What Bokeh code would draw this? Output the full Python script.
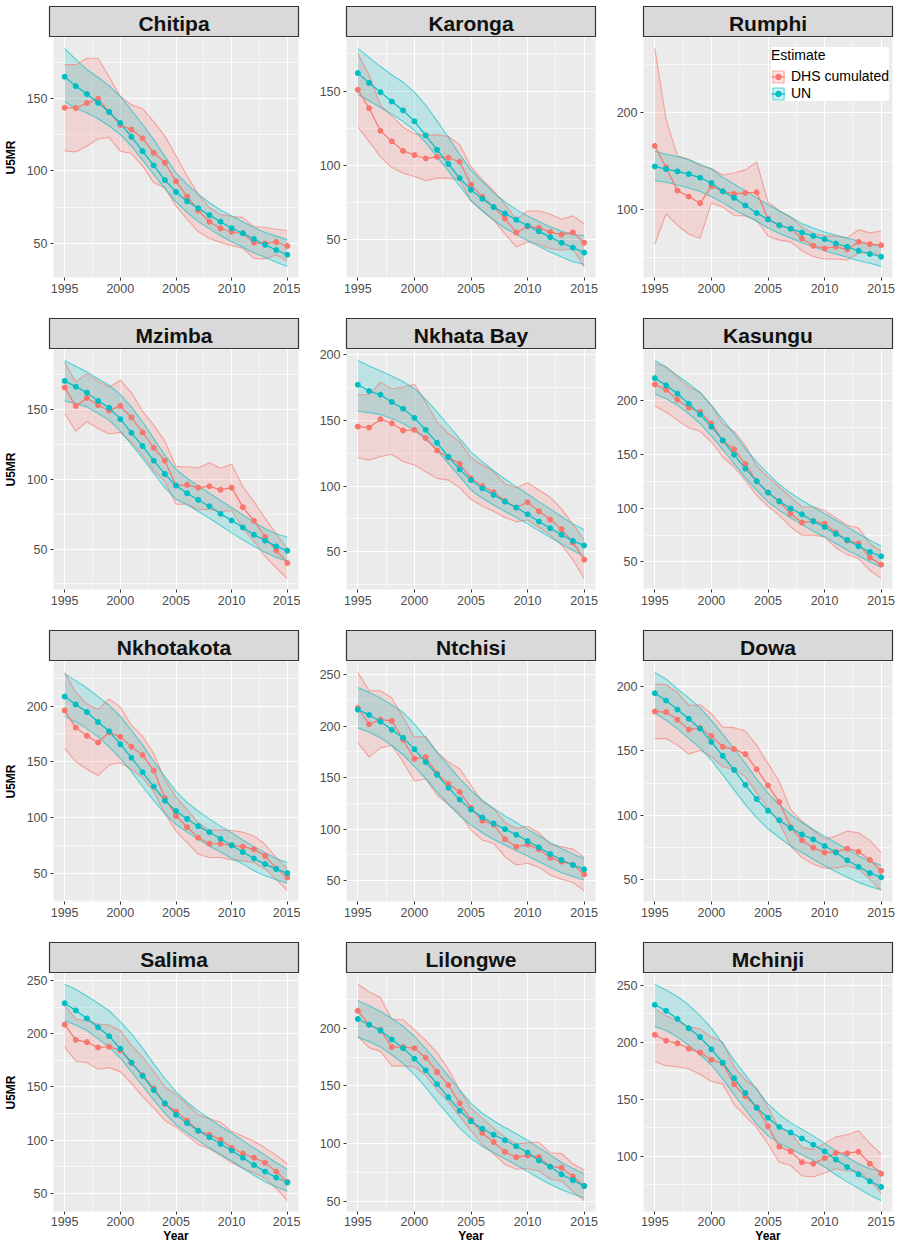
from bokeh.plotting import figure
from bokeh.layouts import column, row
from bokeh.models import Range1d, SingleIntervalTicker, Legend, LegendItem
from bokeh.core.properties import value
from bokeh.embed import file_html
from bokeh.resources import INLINE

years = list(range(1995, 2016))
districts = ["Chitipa", "Karonga", "Rumphi", "Mzimba", "Nkhata Bay", "Kasungu",
             "Nkhotakota", "Ntchisi", "Dowa", "Salima", "Lilongwe", "Mchinji"]
series_labels = ["DHS cumulated", "UN"]
legend_title = "Estimate"
y_label = "U5MR"
x_label = "Year"
y_tick_steps = [50, 50, 100, 50, 50, 50, 50, 50, 50, 50, 50, 50]

chitipa_un = [165, 158.5, 153, 147, 140.6, 133, 123.5, 113.6, 103.8, 93.7, 85.5, 79, 74.3, 69.5, 65, 60.5, 57, 53, 49, 45.4, 42.2]
chitipa_un_lo = [147.5, 143.4, 140, 136, 131, 125, 117, 107.4, 97.6, 87.8, 78.6, 71.3, 65, 60, 55.3, 51.2, 47.3, 43.4, 40.4, 37, 34]
chitipa_un_hi = [184.5, 177, 170, 164.6, 158.7, 151.4, 142, 132, 121.6, 110, 98.7, 90.7, 84, 78, 73, 69, 65, 61, 57.5, 55, 52.5]
chitipa_dhs = [143.6, 143.4, 146.8, 149.8, 140.6, 131.7, 128.5, 122.5, 112.5, 105.6, 92.8, 82.3, 72.7, 64.9, 60.3, 58, 57, 50.5, 50, 51, 48.2]
chitipa_dhs_lo = [113.8, 113, 117, 122, 123, 113.6, 112, 103.3, 91.9, 88.4, 75.9, 66.7, 58, 53.4, 50.7, 48.4, 46.6, 39.7, 39.2, 42, 38]
chitipa_dhs_hi = [173.3, 173.3, 177.7, 177.7, 165, 151.4, 145.6, 143, 134, 124, 110.6, 96.5, 84, 74.7, 70, 68.5, 67.8, 61.6, 61, 59.8, 58.7]

karonga_un = [162.1, 155.5, 149.3, 143, 137, 129.7, 120.2, 110.5, 101, 91.5, 83.6, 77.6, 72, 67.7, 63.5, 59.5, 55.7, 51.8, 48, 44.7, 41.4]
karonga_un_lo = [147.8, 143.4, 139, 134.5, 129.5, 123.5, 115.3, 105.8, 96.4, 86, 76.5, 69.4, 63.2, 58, 53.5, 49.6, 45.6, 41.8, 38.5, 35.2, 33.4]
karonga_un_hi = [178.7, 172.7, 166.5, 161, 156, 149.3, 140.5, 130, 119, 107.4, 97, 89.3, 81.6, 75.6, 70.3, 66, 62.4, 58.8, 55.7, 53.5, 52.9]
karonga_dhs = [150.9, 138.5, 123.3, 116.2, 109.8, 107, 104.7, 105.8, 105.2, 102.5, 87, 78.9, 72, 64.3, 54.9, 59, 58, 55.3, 53.5, 55, 48]
karonga_dhs_lo = [125.7, 116, 105.8, 98.6, 94.8, 92.6, 89.7, 91.5, 91.5, 90.4, 76, 69.4, 63.2, 54, 45.2, 48.5, 47, 44, 43, 44, 32]
karonga_dhs_hi = [175.4, 161, 140.5, 133.4, 125.7, 121.3, 120.2, 120.6, 119.5, 114, 99.2, 90.4, 83, 73.8, 63.9, 69.4, 69.4, 67.2, 63.9, 66.1, 61]

rumphi_un = [144.5, 141.8, 139.4, 136.6, 132.9, 127.4, 118.8, 112, 104.1, 96.2, 89.7, 83.6, 80.1, 76, 72.6, 69.2, 64.7, 61.3, 57.2, 53.8, 51]
rumphi_un_lo = [129.8, 128.1, 125.3, 122.3, 118.5, 113.4, 106.8, 100, 93.8, 87.7, 80.8, 75, 70.5, 65.4, 61.3, 57.2, 53.8, 50.3, 46.9, 44.2, 40.8]
rumphi_un_hi = [160.6, 157.2, 154.8, 151.4, 146.9, 141.8, 133.2, 126.4, 119.5, 112, 104.8, 98.3, 92.1, 85.3, 80.8, 76.7, 73.3, 70.5, 67.1, 63.7, 62.3]
rumphi_dhs = [165.8, 143.5, 119.5, 113.4, 106.5, 124, 118.8, 116.1, 117.1, 117.8, 90.4, 83.6, 80.1, 69.9, 62.3, 59.6, 61.3, 58.6, 66.4, 64, 63]
rumphi_dhs_lo = [64, 95.5, 83.6, 74.3, 70, 106.8, 102.4, 93.8, 93.2, 88.7, 72.6, 68.2, 66.4, 57.2, 51, 48.6, 48.6, 47.6, 54.5, 55.5, 52.7]
rumphi_dhs_hi = [266.8, 193, 155.5, 152, 145, 142.5, 135.6, 137.7, 141, 149.3, 107.5, 99, 92, 81.8, 75, 72.6, 72.6, 70.5, 79, 75.7, 77.7]

mzimba_un = [170.5, 166.4, 162.1, 156.2, 151.2, 143.1, 133.3, 123.8, 113.3, 103.8, 95.5, 90, 85.2, 80.7, 75.2, 70.5, 65.5, 60.2, 56, 51.9, 48.8]
mzimba_un_lo = [156.2, 154.3, 151.9, 147.1, 142.4, 134.5, 125, 115, 104.3, 94, 85.7, 81.7, 76.9, 72.1, 66.9, 61.4, 56.7, 51.9, 47.6, 44, 41.2]
mzimba_un_hi = [185.2, 181, 176.9, 172.1, 167.4, 160.7, 151.9, 141.2, 129.3, 117.4, 107.1, 100.7, 95.2, 90, 84.8, 79.8, 74.5, 69.3, 64.5, 60.7, 58.6]
mzimba_dhs = [165.7, 152.6, 158.3, 153.1, 149.3, 152.6, 144.3, 133.6, 122.6, 113.3, 95.5, 96, 94, 95, 92.4, 94, 80, 70.2, 58.6, 49, 40]
mzimba_dhs_lo = [147.1, 134.5, 141.2, 136.4, 132.4, 133.6, 126.4, 117.4, 106.2, 98.3, 82.1, 82.1, 78.1, 78.1, 76.9, 77.4, 65, 55.5, 44.8, 36.4, 28.8]
mzimba_dhs_hi = [183.6, 169.8, 175.7, 170.2, 166.2, 171, 162.1, 148.8, 138.8, 127.4, 109, 109, 108.3, 111.9, 107.9, 110.7, 94.8, 84, 72.1, 61, 50]

nkhatabay_un = [177, 172.2, 169.4, 163.9, 158.8, 151.8, 142.7, 132.8, 122.2, 112.6, 104.5, 98.2, 93.2, 88.1, 83.6, 78.5, 73, 67.9, 62.9, 58.3, 54.8]
nkhatabay_un_lo = [156.8, 155.8, 154.3, 151.3, 147.5, 142.4, 135.6, 127.3, 117.2, 107.1, 97, 90.7, 85.6, 80.6, 76, 71.2, 65.9, 61.1, 55.8, 51, 46.5]
nkhatabay_un_hi = [195.5, 191.2, 187.6, 183.6, 179.5, 174, 165.9, 156.3, 146.2, 136.1, 126, 118.4, 111.6, 105.3, 99.5, 93.9, 88.1, 82.6, 76.8, 71.2, 66.7]
nkhatabay_dhs = [145.2, 144.4, 150.8, 147.7, 142.2, 142.7, 136.4, 127, 121.7, 116.9, 105.8, 100, 95.2, 88.6, 83.6, 87.6, 80.8, 74.5, 67.2, 57.1, 44]
nkhatabay_dhs_lo = [121.5, 119.7, 122.2, 124.2, 118.4, 115.9, 110.9, 105.8, 104.5, 98.7, 89.9, 84.8, 80.6, 76, 72.9, 74.2, 68.4, 62.9, 55.3, 44, 29.6]
nkhatabay_dhs_hi = [169.4, 169.4, 179, 174, 175.3, 177.3, 163.9, 148.7, 139.9, 133.6, 121.7, 115.9, 110.9, 101.5, 98.7, 102.5, 97, 91.4, 82.6, 71, 59.1]

kasungu_un = [221, 214.3, 206.5, 197.2, 187.3, 175.8, 163.1, 149.8, 136.8, 125, 114.5, 106.4, 99.7, 94.3, 87.8, 82.6, 76, 70.5, 64.6, 59.3, 55.3]
kasungu_un_lo = [206.5, 201.9, 195.7, 187.9, 178.6, 167.2, 154.4, 141.4, 128.4, 116.6, 105.8, 98, 90.9, 84.7, 78.5, 73.3, 67.1, 60.9, 55.7, 50, 45.4]
kasungu_un_hi = [237.5, 231.3, 223.6, 215.8, 207.4, 195.7, 182.6, 169.3, 155.4, 143, 132.1, 122.2, 114.2, 107.3, 101.1, 95, 88.8, 82.6, 76.3, 70.2, 64.9]
kasungu_dhs = [215.2, 210.2, 200.9, 193.5, 189.5, 178.9, 162.8, 154.8, 141.1, 125, 114.5, 106.4, 94.9, 86.6, 88.1, 85.6, 77.3, 69.8, 67.1, 54, 47.5]
kasungu_dhs_lo = [195, 189.5, 181.7, 174.9, 171.5, 161.6, 147.6, 138.3, 125.9, 112, 101.8, 93.4, 82.6, 74.8, 74.8, 73.3, 63, 56.8, 53.1, 42.3, 34.5]
kasungu_dhs_hi = [234.4, 231.3, 222, 212.7, 208.1, 195.7, 178.6, 171.5, 158.5, 139.3, 129, 119.7, 110.4, 101.1, 101.1, 98, 91.2, 84.1, 81.6, 67.1, 59.9]

nkhotakota_un = [208.6, 201.5, 194.7, 185.7, 177.4, 165.8, 153.7, 140.6, 127.8, 115.1, 105.8, 98.7, 92.2, 86.8, 80.9, 75, 69, 63.1, 58.1, 53.6, 50]
nkhotakota_un_lo = [190.8, 185.7, 179.8, 172.4, 163.5, 153.1, 141.2, 127.8, 115.1, 103.5, 93.7, 86.8, 80.3, 74.4, 69, 63.1, 58.1, 52.1, 47.6, 44.1, 41.1]
nkhotakota_un_hi = [228.8, 222.9, 216.3, 208.6, 200.6, 190.8, 178.3, 165, 150.7, 136.7, 123.4, 113.6, 105.6, 98.7, 92.2, 86.2, 79.7, 73.8, 68.4, 63.1, 59.5]
nkhotakota_dhs = [196.1, 180.7, 173.3, 167.3, 176.5, 172.4, 163.5, 156, 142.1, 117.4, 101.4, 91.3, 81.8, 76.4, 76.4, 75, 73.8, 71.4, 65.5, 54.2, 46.2]
nkhotakota_dhs_lo = [162, 150.1, 143.3, 137.6, 147.1, 149.2, 143.3, 135.8, 123.4, 103.5, 87.7, 77.3, 66.9, 64, 64, 61.9, 61, 59.5, 53.6, 44.1, 34.3]
nkhotakota_dhs_hi = [230.3, 212.5, 202.1, 197, 206.5, 199.1, 182.8, 173, 157.5, 133.8, 118.3, 107, 95.2, 88.6, 88.6, 88.3, 86.8, 83.3, 75.9, 64, 54.2]

ntchisi_un = [216.1, 211, 204.5, 196.5, 188.7, 177.7, 165.2, 152.9, 140.3, 128.7, 119, 111.3, 105.5, 100, 94.5, 88.4, 82.3, 75.8, 70, 65.2, 61]
ntchisi_un_lo = [198.4, 194.2, 188.7, 181.3, 172.3, 161, 149, 136.1, 124.2, 112.9, 103.9, 96.5, 90, 84.5, 79, 73.9, 68.4, 62.9, 57.7, 53.9, 50.6]
ntchisi_un_hi = [237.7, 232.9, 227.4, 221, 213.5, 202.3, 188.7, 174.8, 161.9, 149, 137.7, 128.1, 120, 112.9, 106.5, 100, 93.5, 87.1, 81.3, 75.8, 71]
ntchisi_dhs = [217.7, 201.9, 206.5, 205.2, 186.8, 168.4, 170, 153.9, 144.2, 136.1, 120.6, 108.1, 104.5, 90.3, 82.9, 85.2, 80.3, 72.3, 68.4, 65.5, 56.1]
ntchisi_dhs_lo = [183.9, 170, 179, 181.3, 165.2, 146.8, 149, 132.9, 123.9, 115.2, 99, 89.4, 86.1, 73.2, 65.2, 66.8, 62.9, 55.5, 51.3, 48.1, 40.3]
ntchisi_dhs_hi = [252.3, 234.5, 234.5, 227.4, 208.7, 189.4, 190, 174.8, 165.2, 158.7, 142.6, 126.5, 120, 106.5, 100.6, 102.9, 96.5, 85.2, 82.9, 80.6, 72.6]

dowa_un = [194.9, 189.2, 182.2, 175, 167.3, 157, 146.2, 135.2, 123.6, 112.5, 103.5, 96, 90.1, 85, 81.1, 76, 70.9, 64.9, 59.8, 54.9, 51.6]
dowa_un_lo = [179.4, 173.8, 167.3, 159.6, 152.4, 142.9, 131.3, 119.7, 108.2, 97.9, 89.4, 82.4, 76, 70.9, 65.7, 60.6, 55.9, 51.6, 47.7, 44.4, 42]
dowa_un_hi = [211.1, 205.9, 198.2, 191.3, 183.5, 173.8, 163, 151.9, 140.3, 128, 117.2, 108.2, 100.5, 94.5, 88.9, 83.7, 78.6, 73.4, 68.3, 64.4, 61.1]
dowa_dhs = [180.7, 180.2, 174.3, 166.6, 167.8, 161.7, 153.2, 151.4, 147.5, 135.7, 123.1, 110.2, 90.7, 80.4, 74.7, 70.9, 71.4, 73.9, 71.6, 65.2, 56.7]
dowa_dhs_lo = [159.6, 159.6, 154.5, 147.5, 150.6, 145.5, 137.7, 135.7, 130, 117.2, 105.6, 94, 76, 67, 61.8, 58.8, 58.8, 60.6, 58, 50.3, 41.3]
dowa_dhs_hi = [202.1, 201.5, 195.6, 185.3, 185.9, 178.9, 168.6, 168.1, 165.5, 154.5, 140.3, 126.2, 104.3, 95.3, 88.3, 81.7, 83.7, 87.6, 86.3, 80.4, 70.9]

salima_un = [228.6, 221.8, 214.3, 206, 197.6, 185.8, 172.8, 160.4, 147, 134.7, 123.8, 116, 108.9, 102.7, 96.5, 90.3, 83.5, 76.7, 70.5, 64.9, 60.2]
salima_un_lo = [212.2, 208.1, 202.9, 195.1, 187.4, 177.1, 164.1, 151.1, 137.8, 125.4, 114.5, 106.7, 99.6, 92.8, 86.6, 80.4, 73.6, 67.1, 61, 56, 52]
salima_un_hi = [246.3, 241.6, 235.4, 228.6, 221.5, 211.2, 199.8, 186.4, 171.9, 157.9, 145.5, 135.6, 127.5, 120.1, 113, 106.7, 99.6, 92.8, 86, 78.8, 72.6]
salima_dhs = [208.4, 194.2, 192, 187, 187.7, 184.3, 172.5, 161, 148.6, 134, 126.9, 118.2, 108.9, 105.2, 100.5, 92.8, 87.5, 83.5, 78.8, 70.5, 60.9]
salima_dhs_lo = [187.4, 174.3, 172.8, 166.6, 168.1, 164.1, 153.3, 140.8, 130, 118.5, 112.3, 104.3, 95.8, 91.9, 85.7, 78.8, 73.6, 69.5, 64.3, 54.7, 43.2]
salima_dhs_hi = [226.7, 213.7, 212.2, 209.1, 208.1, 202.9, 188.9, 178.1, 164.7, 150.2, 143, 133.7, 123.8, 120.1, 117, 108.3, 103.6, 99, 92.8, 86, 77.9]

lilongwe_un = [208, 203.1, 198, 190.3, 182.8, 173.7, 163.6, 151.6, 140.2, 128.7, 119.5, 113, 107.8, 103, 97.8, 92.3, 85.5, 80.1, 73.5, 68.3, 63.4]
lilongwe_un_lo = [192.3, 188.5, 183.7, 177.1, 169.4, 159.9, 148.8, 136.4, 125, 113.5, 104.4, 97.8, 92.1, 87, 81.5, 75.8, 70.1, 64.9, 60, 56.3, 52.9]
lilongwe_un_hi = [223.8, 219.5, 214.6, 208.6, 201.7, 193.1, 182.3, 170.8, 158.8, 146.5, 135, 126.4, 119.8, 114.1, 108.6, 102.9, 96.6, 90.3, 83.7, 78.6, 74]
lilongwe_dhs = [215.2, 203.1, 198.6, 183.7, 183.7, 182.8, 174.5, 162.2, 150.8, 135, 120.7, 109.2, 101.5, 92.9, 88.3, 89.8, 88.3, 80.1, 79.2, 71.5, 63.4]
lilongwe_dhs_lo = [193.1, 183.1, 180, 167.4, 167.4, 166.5, 159.3, 146.5, 136.4, 123.6, 111.3, 99.2, 91.2, 82, 77.8, 78.3, 76.3, 69.2, 67.7, 58.6, 50.6]
lilongwe_dhs_hi = [238.1, 231.5, 226.6, 208, 207.4, 198.6, 189.4, 178.8, 164.5, 146.5, 130.7, 122.1, 113.5, 105.5, 99.8, 100.7, 101.2, 92.1, 91.5, 82.6, 76.9]

mchinji_un = [232.9, 227.7, 220.5, 212.4, 204.6, 193.9, 182.1, 168.5, 155.5, 142.5, 133.8, 125.7, 120.8, 115.6, 110.1, 104.3, 97.1, 90.5, 84.1, 78, 73.1]
mchinji_un_lo = [213.9, 210.4, 204.6, 197.4, 189.3, 180.1, 167.9, 154, 141, 128, 117.9, 111.3, 106.4, 101.4, 96.2, 90.5, 83.8, 77.5, 71.7, 65.9, 61]
mchinji_un_hi = [250.9, 246, 240.2, 232.7, 223.4, 212.4, 198.8, 184.4, 171.4, 158.4, 146, 136.7, 129.5, 123.7, 117.9, 111.3, 104.9, 99.1, 93.4, 89, 87]
mchinji_dhs = [206.6, 201.4, 199.1, 194.5, 191, 184.7, 181.5, 163.3, 152.6, 143.1, 126.3, 108.4, 104.3, 94.8, 93.4, 98.3, 102.9, 102.6, 104, 93.4, 84.7]
mchinji_dhs_lo = [182.9, 179.5, 178.6, 176.6, 172, 165.6, 163.3, 145.4, 135.3, 125.1, 110.7, 94.8, 91.9, 82.7, 81.8, 85.3, 89, 87, 86.7, 78.9, 67.3]
mchinji_dhs_hi = [229.8, 223.4, 219.1, 213.3, 211.8, 204.6, 200.3, 178.6, 167.1, 159.8, 142.5, 125.1, 120.8, 107.8, 105.8, 111.3, 117, 118.8, 122.3, 111.3, 102]

panel_data = [
    (chitipa_dhs, chitipa_dhs_lo, chitipa_dhs_hi, chitipa_un, chitipa_un_lo, chitipa_un_hi),
    (karonga_dhs, karonga_dhs_lo, karonga_dhs_hi, karonga_un, karonga_un_lo, karonga_un_hi),
    (rumphi_dhs, rumphi_dhs_lo, rumphi_dhs_hi, rumphi_un, rumphi_un_lo, rumphi_un_hi),
    (mzimba_dhs, mzimba_dhs_lo, mzimba_dhs_hi, mzimba_un, mzimba_un_lo, mzimba_un_hi),
    (nkhatabay_dhs, nkhatabay_dhs_lo, nkhatabay_dhs_hi, nkhatabay_un, nkhatabay_un_lo, nkhatabay_un_hi),
    (kasungu_dhs, kasungu_dhs_lo, kasungu_dhs_hi, kasungu_un, kasungu_un_lo, kasungu_un_hi),
    (nkhotakota_dhs, nkhotakota_dhs_lo, nkhotakota_dhs_hi, nkhotakota_un, nkhotakota_un_lo, nkhotakota_un_hi),
    (ntchisi_dhs, ntchisi_dhs_lo, ntchisi_dhs_hi, ntchisi_un, ntchisi_un_lo, ntchisi_un_hi),
    (dowa_dhs, dowa_dhs_lo, dowa_dhs_hi, dowa_un, dowa_un_lo, dowa_un_hi),
    (salima_dhs, salima_dhs_lo, salima_dhs_hi, salima_un, salima_un_lo, salima_un_hi),
    (lilongwe_dhs, lilongwe_dhs_lo, lilongwe_dhs_hi, lilongwe_un, lilongwe_un_lo, lilongwe_un_hi),
    (mchinji_dhs, mchinji_dhs_lo, mchinji_dhs_hi, mchinji_un, mchinji_un_lo, mchinji_un_hi),
]

# ---- styling ----
COLORS = ["#F8766D", "#00BFC4"]
FONT = "Liberation Sans"
FIG_W = [300, 300, 299]
LEFT = [49, 46, 43]
RIGHT = [2, 5, 7]
FRAME_H = 240


def make_strip(name, r, c):
    s = figure(width=FIG_W[c], height=(37 if r == 0 else 31),
               x_range=Range1d(0, 1), y_range=Range1d(0, 1),
               x_axis_type=None, y_axis_type=None,
               min_border_left=LEFT[c], min_border_right=RIGHT[c],
               min_border_top=(6 if r == 0 else 0), min_border_bottom=0,
               toolbar_location=None, output_backend="svg")
    s.background_fill_color = "#D9D9D9"
    s.border_fill_color = "white"
    s.outline_line_color = "#333333"
    s.outline_line_width = 1.2
    s.text(x=[0.5], y=[0.45], text=[name], text_align="center", text_baseline="middle",
           text_font=value(FONT), text_font_style="bold", text_font_size="21px",
           text_color="#111111")
    return s


def make_panel(i, r, c):
    dhs, dhs_lo, dhs_hi, un, un_lo, un_hi = panel_data[i]
    allv = dhs + dhs_lo + dhs_hi + un + un_lo + un_hi
    lo, hi = min(allv), max(allv)
    pad = 0.05 * (hi - lo)
    xpad = 0.05 * (years[-1] - years[0])
    bottom = 32 if r == 3 else 41
    p = figure(width=FIG_W[c], height=FRAME_H + bottom,
               x_range=Range1d(years[0] - xpad, years[-1] + xpad),
               y_range=Range1d(lo - pad, hi + pad),
               min_border_left=LEFT[c], min_border_right=RIGHT[c],
               min_border_top=0, min_border_bottom=bottom,
               toolbar_location=None, output_backend="svg")
    p.background_fill_color = "#EBEBEB"
    p.border_fill_color = "white"
    p.outline_line_color = None

    xt = SingleIntervalTicker(interval=5, num_minor_ticks=2)
    yt = SingleIntervalTicker(interval=y_tick_steps[i], num_minor_ticks=2)
    p.xaxis[0].ticker = xt
    p.xgrid[0].ticker = xt
    p.yaxis[0].ticker = yt
    p.ygrid[0].ticker = yt
    for g in (p.xgrid[0], p.ygrid[0]):
        g.grid_line_color = "white"
        g.grid_line_width = 1.1
        g.minor_grid_line_color = "white"
        g.minor_grid_line_width = 0.6
    for ax in (p.xaxis[0], p.yaxis[0]):
        ax.axis_line_color = None
        ax.major_tick_line_color = "#333333"
        ax.major_tick_in = 0
        ax.major_tick_out = 3
        ax.minor_tick_line_color = None
        ax.major_label_text_font = FONT
        ax.major_label_text_font_size = "12.5px"
        ax.major_label_text_color = "#4D4D4D"
        ax.major_label_standoff = 2
        ax.axis_label_text_font = FONT
        ax.axis_label_text_font_style = "bold"
        ax.axis_label_text_font_size = "12px"
        ax.axis_label_text_color = "#000000"
    if c == 0:
        p.yaxis[0].axis_label = y_label
        p.yaxis[0].axis_label_standoff = 6
    if r == 3:
        p.xaxis[0].axis_label = x_label
        p.xaxis[0].axis_label_standoff = 0
        p.xaxis[0].major_label_standoff = 1

    groups = [(dhs, dhs_lo, dhs_hi), (un, un_lo, un_hi)]
    for k, (est, elo, ehi) in enumerate(groups):
        p.varea(x=years, y1=elo, y2=ehi, fill_color=COLORS[k], fill_alpha=0.2)
    for k, (est, elo, ehi) in enumerate(groups):
        p.line(years, elo, line_color=COLORS[k], line_alpha=0.6, line_width=1.1)
        p.line(years, ehi, line_color=COLORS[k], line_alpha=0.6, line_width=1.1)
    lines, pts, keys = [], [], []
    for k, (est, elo, ehi) in enumerate(groups):
        lines.append(p.line(years, est, line_color=COLORS[k], line_width=1.2))
    for k, (est, elo, ehi) in enumerate(groups):
        pts.append(p.scatter(years, est, size=5, color=COLORS[k]))
    if i == 2:
        # legend-key box (ribbon fill + outline); a single out-of-range vertex draws nothing in the plot
        for k in range(2):
            keys.append(p.patch(x=[years[0] - 10], y=[groups[k][0][0]],
                                fill_color=COLORS[k], fill_alpha=0.2,
                                line_color=COLORS[k], line_alpha=0.6, line_width=1.1))
        items = [LegendItem(label=series_labels[k], renderers=[keys[k], lines[k], pts[k]])
                 for k in range(2)]
        # location = bottom-left corner of the legend box, in px from frame bottom-left
        leg = Legend(items=items, title=legend_title, location=(128, 176),
                     orientation="vertical")
        leg.title_text_font = FONT
        leg.title_text_font_size = "14px"
        leg.title_text_font_style = "normal"
        leg.title_text_color = "#000000"
        leg.title_standoff = 5
        leg.label_text_font = FONT
        leg.label_text_font_size = "14px"
        leg.label_text_color = "#000000"
        leg.glyph_width = 14
        leg.glyph_height = 15
        leg.label_height = 15
        leg.label_standoff = 6
        leg.spacing = 1
        leg.padding = 6
        leg.margin = 0
        leg.background_fill_color = "white"
        leg.background_fill_alpha = 1.0
        leg.border_line_color = None
        p.add_layout(leg)
    return p


rows = []
for r in range(4):
    strips, panels = [], []
    for c in range(3):
        i = r * 3 + c
        strips.append(make_strip(districts[i], r, c))
        panels.append(make_panel(i, r, c))
    rows.append(row(*strips, spacing=0))
    rows.append(row(*panels, spacing=0))

layout = column(*rows, spacing=0)

open("out.html", "w").write(file_html(layout, INLINE))
